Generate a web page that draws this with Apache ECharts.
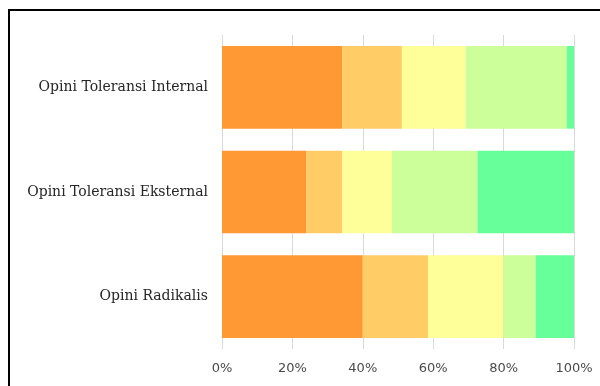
<!DOCTYPE html>
<html>
<head>
<meta charset="utf-8">
<script src="https://cdn.jsdelivr.net/npm/echarts@6/dist/echarts.min.js"></script>
<style>html,body{margin:0;padding:0;background:#fff;}#c{width:600px;height:386px;}</style>
</head>
<body>
<div id="c"></div>
<script>
// Categories (bottom to top, as drawn on the y axis)
const categories = ["Opini Radikalis", "Opini Toleransi Eksternal", "Opini Toleransi Internal"];
// Segment shares (%) for each category, same order as categories
const seg1 = [40.0, 24.0, 34.2];
const seg2 = [18.5, 10.2, 16.9];
const seg3 = [21.4, 14.1, 18.1];
const seg4 = [9.2, 24.3, 28.8];
const seg5 = [10.9, 27.4, 2.0];
const segColors = ["#FF9933", "#FFCC66", "#FFFF99", "#CCFF99", "#66FF99"];
const tickLabels = ["0%", "20%", "40%", "60%", "80%", "100%"];

const segs = [seg1, seg2, seg3, seg4, seg5];
const chart = echarts.init(document.getElementById('c'), null, {renderer: 'canvas'});
chart.setOption({
  animation: false,
  backgroundColor: '#ffffff',
  grid: {left: 222, right: 26, top: 35, bottom: 37, containLabel: false},
  xAxis: {
    type: 'value', min: 0, max: 100, interval: 20,
    axisLine: {show: false}, axisTick: {show: false},
    splitLine: {show: true, lineStyle: {color: '#d9d9d9', width: 1}},
    axisLabel: {
      margin: 13, color: '#4a4a4a', fontFamily: 'DejaVu Sans', fontSize: 13,
      formatter: v => tickLabels[Math.round(v / 20)]
    }
  },
  yAxis: {
    type: 'category', data: categories,
    axisLine: {show: false}, axisTick: {show: false},
    axisLabel: {margin: 14, color: '#262626', fontFamily: 'DejaVu Serif', fontSize: 14,
      padding: [4, 0, 0, 0]}
  },
  series: segs.map((d, i) => ({
    type: 'bar', stack: 'total', data: d, barCategoryGap: '21%',
    itemStyle: {color: segColors[i]}
  })),
  graphic: [{
    type: 'rect', shape: {x: 9, y: 10, width: 620, height: 420},
    style: {fill: 'none', stroke: '#000000', lineWidth: 2}, silent: true
  }]
});
</script>
</body>
</html>
